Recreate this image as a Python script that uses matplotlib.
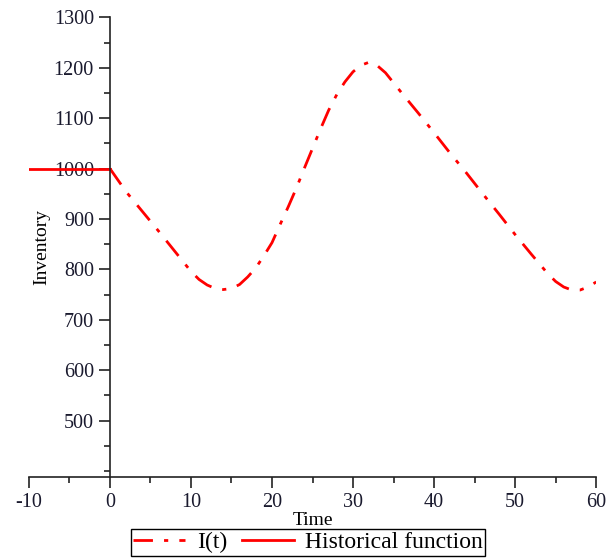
import matplotlib
matplotlib.use("Agg")
import matplotlib.pyplot as plt
from matplotlib.ticker import MultipleLocator

# inventory I(t)
t = [0, 2, 4, 6, 8, 10, 11, 12, 13, 14, 15, 16, 17, 18, 19, 20, 21, 22, 23, 24,
     25, 26, 27, 28, 29, 30, 31, 32, 33, 34, 35, 36, 38, 40, 42, 44, 46, 48,
     50, 52, 54, 55, 56, 57, 58, 59, 60]
inv = [1000, 954, 915, 876, 836, 796, 780, 769, 762, 760, 762, 770, 785, 803,
       827, 853, 889, 924, 961, 1001, 1040, 1079, 1116, 1147, 1172, 1192, 1205,
       1211, 1204, 1190, 1170, 1150, 1111, 1071, 1030, 991, 950, 910, 869, 830,
       792, 776, 765, 759, 759, 765, 775]
# historical function (constant before t=0)
t_hist = [-10, 0]
inv_hist = [1000, 1000]

plt.rcParams["font.family"] = ["Liberation Serif", "DejaVu Serif"]
plt.rcParams["axes.unicode_minus"] = False

fig = plt.figure(figsize=(6.14, 5.58), dpi=100)
ax = fig.add_axes([0.047, 0.145, 0.924, 0.824])

ax.plot(t, inv, color="red", lw=2.0, linestyle=(0, (7, 4, 1.5, 4)), label="I(t)")
ax.plot(t_hist, inv_hist, color="red", lw=2.0, label="Historical function")

ax.set_xlim(-10, 60)
ax.set_ylim(388, 1300)
ax.spines["left"].set_position(("data", 0))
ax.spines["top"].set_visible(False)
ax.spines["right"].set_visible(False)
for s in ("left", "bottom"):
    ax.spines[s].set_color("#222222")
    ax.spines[s].set_linewidth(1.2)

ax.xaxis.set_major_locator(MultipleLocator(10))
ax.xaxis.set_minor_locator(MultipleLocator(5))
ax.set_yticks([500, 600, 700, 800, 900, 1000, 1100, 1200, 1300])
ax.yaxis.set_minor_locator(MultipleLocator(50))
ax.tick_params(which="major", length=8, width=1.2, labelsize=14.5, color="#222222", labelcolor="#1a1a2e")
ax.tick_params(which="minor", length=4, width=1.2, color="#222222")

ax.set_xlabel("Time", fontsize=14, labelpad=0)
ax.text(-8.4, 0.5 * (388 + 1300), "Inventory", rotation=90, fontsize=14,
        ha="center", va="center")

fig.legend(loc="center", bbox_to_anchor=(0.502, 0.028), ncol=2, fontsize=17,
           frameon=True, fancybox=False, edgecolor="black", framealpha=1,
           handlelength=2.2, handletextpad=0.5, columnspacing=0.6,
           borderpad=0.1, borderaxespad=0)

fig.savefig("out.png", dpi=100)
